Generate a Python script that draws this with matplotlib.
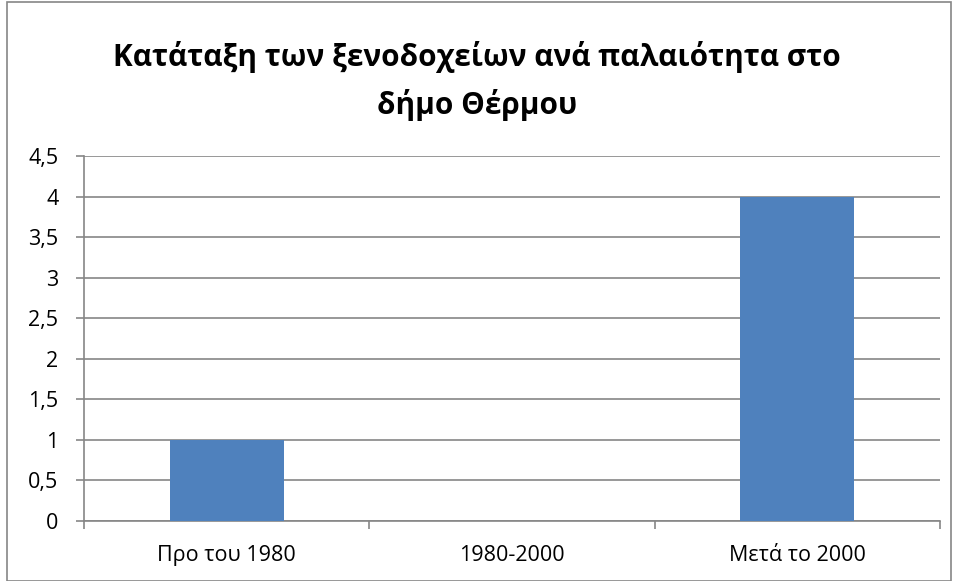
import matplotlib
matplotlib.use('Agg')
import matplotlib.pyplot as plt
from matplotlib.patches import Rectangle

categories = ['Προ του 1980', '1980-2000', 'Μετά το 2000']
values = [1, 0, 4]
yticks = [0, 0.5, 1, 1.5, 2, 2.5, 3, 3.5, 4, 4.5]
ytick_labels = ['0', '0,5', '1', '1,5', '2', '2,5', '3', '3,5', '4', '4,5']
title = 'Κατάταξη των ξενοδοχείων ανά παλαιότητα στο\nδήμο Θέρμου'

plt.rcParams['font.family'] = ['Open Sans', 'DejaVu Sans']

fig = plt.figure(figsize=(9.54, 5.81), dpi=100)
ax = fig.add_axes([84 / 954, 1 - 521 / 581, (940 - 84) / 954, (521 - 156) / 581])

x = range(len(categories))
ax.bar(x, values, width=0.4, color='#4F81BD', zorder=3)

ax.set_xlim(-0.5, 2.5)
ax.set_ylim(0, 4.5)
ax.set_yticks(yticks)
ax.set_yticklabels(ytick_labels, fontsize=15.5)
ax.set_xticks(list(x))
ax.set_xticklabels(categories, fontsize=15.5)
ax.tick_params(axis='x', length=0, pad=17)
ax.set_xticks([-0.5, 0.5, 1.5, 2.5], minor=True)
ax.tick_params(axis='x', which='minor', length=6, color='#868686', width=1.2)
ax.tick_params(axis='y', length=5.5, color='#868686', width=1.2, pad=13)

ax.grid(axis='y', color='#868686', lw=1.2, zorder=0)
for s in ['top', 'right']:
    ax.spines[s].set_visible(False)
for s in ['left', 'bottom']:
    ax.spines[s].set_color('#868686')
    ax.spines[s].set_linewidth(1.2)

fig.text(0.5, 1 - 81 / 581, title, ha='center', va='center', fontsize=21.4,
         fontweight='bold', linespacing=1.65)

fig.patches.append(Rectangle((7 / 954, 0), 944 / 954, 1 - 2 / 581, transform=fig.transFigure,
                             fill=False, edgecolor='#868686', lw=1.2))

fig.savefig('out.png', dpi=100)
